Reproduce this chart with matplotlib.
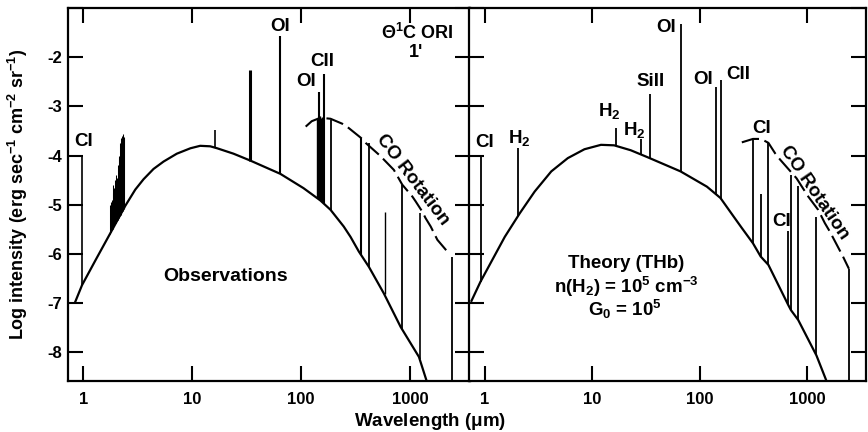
import matplotlib
matplotlib.use('Agg')
import matplotlib.pyplot as plt

plt.rcParams['font.family'] = ['Liberation Sans', 'DejaVu Sans']
plt.rcParams['font.weight'] = 'bold'
plt.rcParams['mathtext.fontset'] = 'custom'
plt.rcParams['mathtext.rm'] = 'Liberation Sans:bold'
plt.rcParams['mathtext.it'] = 'Liberation Sans:bold'
plt.rcParams['mathtext.bf'] = 'Liberation Sans:bold'
plt.rcParams['mathtext.default'] = 'rm'

# ---------------- data: observations (left) ----------------
obs_cont_wl = [0.84, 0.97, 1.3, 1.76, 2.42, 2.99, 3.56, 4.4, 5.44, 7.2, 9.6, 11.8, 14.6, 16.9, 23.9,
               34.1, 64.4, 105, 150, 186, 246, 284, 339, 419, 575, 820, 1208, 1422, 1460]
obs_cont_I = [-6.97, -6.63, -6.11, -5.58, -5.02, -4.69, -4.48, -4.27, -4.12, -3.96, -3.85, -3.80, -3.81,
              -3.85, -3.96, -4.10, -4.37, -4.66, -4.91, -5.10, -5.44, -5.65, -5.95, -6.26, -6.80, -7.48,
              -8.09, -8.58, -8.72]

obs_line_wl = [0.97, 16.3, 34.2, 63.5, 141, 145, 147, 150, 153, 156, 161, 189, 355, 418, 594, 836, 1230, 2450]
obs_line_top = [-4.00, -3.47, -2.25, -1.57, -3.25, -3.22, -2.71, -3.20, -3.23, -3.21, -2.35, -3.27,
                -3.64, -3.74, -5.14, -4.59, -5.17, -6.05]
obs_line_base = [-6.63, -3.84, -4.10, -4.37, -4.86, -4.88, -4.89, -4.91, -4.93, -4.95, -4.98, -5.12,
                 -6.02, -6.26, -6.81, -7.52, -8.13, -8.80]
obs_line_lw = [1.2, 1.2, 2.2, 1.5, 1.0, 1.0, 1.5, 1.0, 1.0, 1.0, 1.5, 1.3, 1.5, 1.3, 1.0, 1.3, 1.2, 1.3]

obs_forest_wl = [1.75, 1.78, 1.82, 1.85, 1.88, 1.92, 1.96, 2.00, 2.03, 2.06, 2.10, 2.13, 2.16, 2.19,
                 2.22, 2.26, 2.29, 2.32, 2.35, 2.38]
obs_forest_top = [-5.00, -4.95, -4.90, -4.75, -4.60, -4.65, -4.50, -4.40, -4.45, -4.20, -4.05, -4.00,
                  -3.75, -3.72, -3.65, -3.60, -3.57, -3.60, -3.65, -3.62]
obs_forest_base = [-5.59, -5.56, -5.52, -5.49, -5.47, -5.43, -5.39, -5.36, -5.33, -5.31, -5.27, -5.25,
                   -5.22, -5.20, -5.18, -5.14, -5.12, -5.10, -5.08, -5.06]

obs_co_wl = [110, 125, 150, 186, 238, 274, 364, 391, 518, 575, 711, 849, 1050, 1127, 1298, 1390,
             1549, 1783, 2204]
obs_co_I = [-3.41, -3.30, -3.23, -3.25, -3.35, -3.44, -3.66, -3.74, -3.98, -4.08, -4.29, -4.59, -4.83,
            -4.93, -5.14, -5.27, -5.44, -5.71, -5.95]

# ---------------- data: theory (right) ----------------
th_cont_wl = [0.75, 0.91, 1.53, 2.11, 2.90, 4.14, 5.90, 8.42, 12.0, 15.9, 22.7, 32.4, 66, 116, 155,
              206, 245, 311, 367, 433, 664, 702, 820, 1211, 1490, 1530]
th_cont_I = [-6.95, -6.56, -5.65, -5.17, -4.73, -4.32, -4.05, -3.87, -3.78, -3.79, -3.89, -4.03, -4.32,
             -4.63, -4.86, -5.24, -5.47, -5.78, -6.05, -6.22, -7.04, -7.14, -7.34, -8.06, -8.56, -8.66]

th_line_wl = [0.91, 2.03, 16.5, 28.5, 34.3, 66, 142, 158, 311, 367, 433, 664, 702, 820, 1211, 2430]
th_line_top = [-3.98, -3.85, -3.44, -3.66, -2.75, -1.33, -2.60, -2.47, -3.68, -4.78, -3.74, -5.54,
               -4.39, -4.61, -5.24, -6.30]
th_line_base = [-6.56, -5.23, -3.80, -3.97, -4.05, -4.32, -4.79, -4.88, -5.78, -6.05, -6.22, -7.04,
                -7.14, -7.34, -8.06, -8.80]

th_co_wl = [245, 311, 370, 433, 499, 556, 791, 1015, 1256, 1449, 1611, 2138, 2380, 2430]
th_co_I = [-3.73, -3.66, -3.66, -3.74, -3.95, -4.08, -4.46, -4.83, -5.10, -5.37, -5.54, -6.05, -6.26, -6.30]

x_ticks = [1, 10, 100, 1000]
x_tick_labels = ['1', '10', '100', '1000']
y_ticks = [-8, -7, -6, -5, -4, -3, -2, -1]
y_tick_labels = ['-8', '-7', '-6', '-5', '-4', '-3', '-2', '']

obs_labels = [(1.0, -3.71, 'CI'), (63.5, -1.37, 'OI'), (156, -2.08, 'CII'), (110, -2.49, 'OI')]
th_labels = [(1.0, -3.74, 'CI'), (2.1, -3.64, 'H$_2$'), (14.3, -3.10, 'H$_2$'), (24.4, -3.47, 'H$_2$'),
             (34.4, -2.49, 'SiII'), (48.5, -1.40, 'OI'), (108, -2.45, 'OI'), (228, -2.35, 'CII'),
             (375, -3.44, 'CI'), (574, -5.34, 'CI')]

# ---------------- figure ----------------
fig = plt.figure(figsize=(8.68, 4.32), dpi=100)
ax1 = fig.add_axes([0.078, 0.118, 0.4629, 0.8634])
ax2 = fig.add_axes([0.5407, 0.118, 0.4573, 0.8634])

for ax in (ax1, ax2):
    ax.set_xscale('log')
    ax.set_xlim(0.716, 3520)
    ax.set_ylim(-8.58, -1.0)
    ax.set_xticks(x_ticks)
    ax.set_xticklabels(x_tick_labels)
    ax.set_yticks(y_ticks)
    ax.set_yticklabels(y_tick_labels)
    ax.xaxis.set_minor_locator(matplotlib.ticker.NullLocator())
    ax.tick_params(which='major', direction='in', length=11, width=1.5,
                   top=True, right=True, bottom=True, left=True, labelsize=12)
    ax.tick_params(axis='x', pad=8)
    ax.tick_params(axis='y', pad=4)
    for s in ax.spines.values():
        s.set_linewidth(1.6)
ax2.tick_params(labelleft=False)

# left panel: observations
ax1.plot(obs_cont_wl, obs_cont_I, color='black', lw=1.6, zorder=3)
ax1.vlines(obs_line_wl, obs_line_base, obs_line_top, colors='black', linewidths=obs_line_lw)
ax1.vlines(obs_forest_wl, obs_forest_base, obs_forest_top, colors='black', linewidths=0.75)
ax1.plot(obs_co_wl, obs_co_I, color='black', lw=1.5, linestyle=(0, (8.5, 2.8)))
for x, y, s in obs_labels:
    ax1.text(x, y, s, ha='center', va='center', fontsize=13.5, fontweight='bold')
ax1.text(1130, -1.91, "1'", ha='center', va='center', fontsize=13, fontweight='bold')
ax1.text(1175, -1.50, r'$\Theta^{1}$C ORI', ha='center', va='center', fontsize=13, fontweight='bold')
ax1.text(20.2, -6.45, 'Observations', ha='center', va='center', fontsize=14, fontweight='bold')
ax1.text(1050, -4.49, 'CO Rotation', ha='center', va='center', fontsize=13.5, fontweight='bold',
         rotation=-52.8)

# right panel: theory
ax2.plot(th_cont_wl, th_cont_I, color='black', lw=1.6, zorder=3)
ax2.vlines(th_line_wl, th_line_base, th_line_top, colors='black', linewidths=1.3)
ax2.plot(th_co_wl, th_co_I, color='black', lw=1.5, linestyle=(0, (8.5, 2.8)))
for x, y, s in th_labels:
    ax2.text(x, y, s, ha='center', va='center', fontsize=13.5, fontweight='bold')
ax2.text(20.5, -6.20, 'Theory (THb)', ha='center', va='center', fontsize=13.5, fontweight='bold')
ax2.text(20.5, -6.66, r'n(H$_2$) = 10$^5$ cm$^{-3}$', ha='center', va='center', fontsize=13.5,
         fontweight='bold')
ax2.text(20.0, -7.13, r'G$_0$ = 10$^5$', ha='center', va='center', fontsize=13.5, fontweight='bold')
ax2.text(1170, -4.75, 'CO Rotation', ha='center', va='center', fontsize=13.5, fontweight='bold',
         rotation=-55.8)

fig.text(0.4954, 0.0139, r'Wavelength ($\mu$m)', ha='center', va='baseline', fontsize=13.5,
         fontweight='bold')
fig.text(0.0207, 0.55, r'Log intensity (erg sec$^{-1}$ cm$^{-2}$ sr$^{-1}$)', ha='center',
         va='center', rotation=90, fontsize=13, fontweight='bold')

fig.savefig('out.png', dpi=100)
